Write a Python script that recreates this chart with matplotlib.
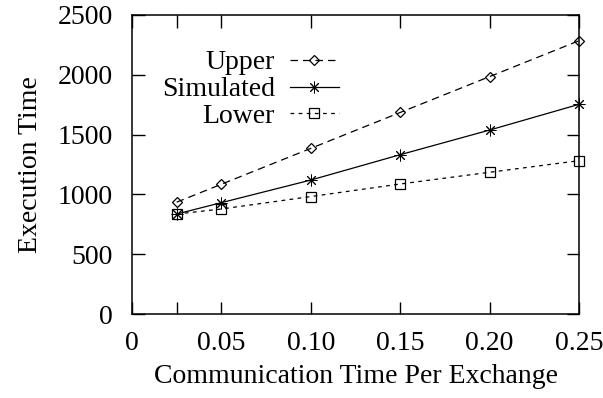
import matplotlib
matplotlib.use("Agg")
import matplotlib.pyplot as plt
from matplotlib.ticker import FixedLocator

# data
comm_time = [0.025, 0.05, 0.10, 0.15, 0.20, 0.25]
upper = [935, 1085, 1385, 1685, 1985, 2285]
simulated = [836, 931, 1120, 1332, 1538, 1753]
lower = [836, 878, 982, 1087, 1185, 1282]

x_ticks = [0, 0.05, 0.10, 0.15, 0.20, 0.25]
x_tick_labels = ["0", "0.05", "0.10", "0.15", "0.20", "0.25"]
y_ticks = [0, 500, 1000, 1500, 2000, 2500]

plt.rcParams['font.family'] = ['Liberation Serif', 'DejaVu Serif']
plt.rcParams['font.size'] = 20

fig = plt.figure(figsize=(6.03, 3.98), dpi=100)
ax = fig.add_axes([132 / 603, 1 - 314 / 398, (579 - 132) / 603, (314 - 15) / 398])

ms = 6.5
ax.plot(comm_time, upper, color='black', lw=0.9, dashes=(6, 4),
        marker='D', ms=ms * 0.85, mfc='none', mec='black', mew=0.9,
        clip_on=False, label='Upper')
ax.plot(comm_time, simulated, color='black', lw=0.9, linestyle='-',
        marker=(8, 2, 0), ms=ms * 1.3, mec='black', mew=0.7,
        clip_on=False, label='Simulated')
ax.plot(comm_time, lower, color='black', lw=0.9, dashes=(3, 3.5),
        marker='s', ms=ms * 1.15, mfc='none', mec='black', mew=0.9,
        clip_on=False, label='Lower')

ax.set_xlim(0, 0.25)
ax.set_ylim(0, 2500)
ax.set_xticks(x_ticks)
ax.set_xticklabels(x_tick_labels)
ax.xaxis.set_minor_locator(FixedLocator([0.025]))
ax.set_yticks(y_ticks)

ax.tick_params(which='both', direction='in', top=True, right=True,
               length=9, width=1, pad=12)
ax.tick_params(axis='y', pad=14)
for s in ax.spines.values():
    s.set_linewidth(1.1)

ax.set_xlabel('Communication Time Per Exchange', labelpad=6)
ax.set_ylabel('Execution Time', labelpad=10)

leg = ax.legend(loc='upper left', bbox_to_anchor=(0.042, 0.92), frameon=False,
                markerfirst=False, handlelength=1.75, handletextpad=0.55,
                labelspacing=0.05, borderaxespad=0.0)
# right-align the labels like gnuplot keys
for col in leg._legend_handle_box.get_children():
    col.align = "right"

fig.savefig('out.png', dpi=100)
